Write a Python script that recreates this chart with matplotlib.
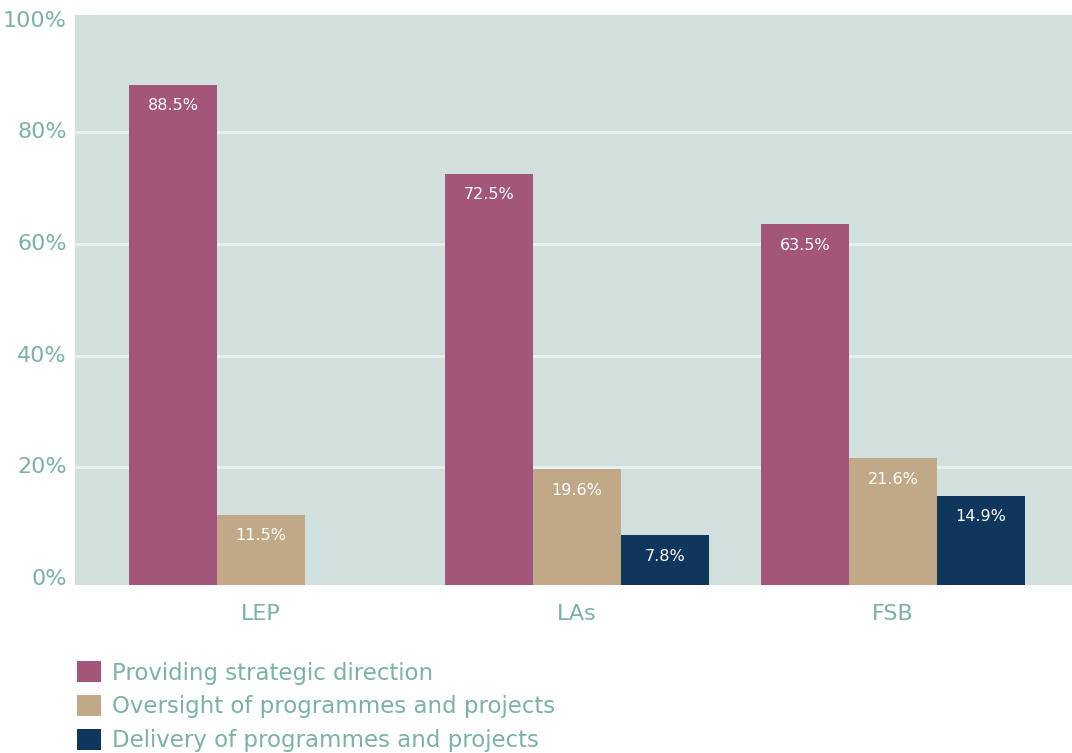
import matplotlib
matplotlib.use("Agg")
import matplotlib.pyplot as plt
from matplotlib.patches import Patch
import numpy as np

categories = ["LEP", "LAs", "FSB"]
series_names = ["Providing strategic direction",
                "Oversight of programmes and projects",
                "Delivery of programmes and projects"]
strategic = [88.5, 72.5, 63.5]
oversight = [11.5, 19.6, 21.6]
delivery = [0.0, 7.8, 14.9]
yticks = [0, 20, 40, 60, 80, 100]
ytick_labels = ["0%", "20%", "40%", "60%", "80%", "100%"]

colors = ["#A4567A", "#C1A988", "#0F365C"]
text_color = "#7AB2A8"
bg = "#D1E0DD"

plt.rcParams['font.family'] = ['DejaVu Sans']

fig = plt.figure(figsize=(10.72, 7.53), dpi=100)
ax = fig.add_axes([75/1072, 1-585/753, 1-75/1072, (585-15)/753])
ax.set_facecolor(bg)

ylo, yhi = -1.1, 101
x = np.arange(len(categories))
w = 0.278
for i, (vals, c) in enumerate(zip([strategic, oversight, delivery], colors)):
    pos = x + (i - 1) * w
    for p, v in zip(pos, vals):
        if v <= 0:
            continue
        ax.bar(p, v - ylo, bottom=ylo, width=w, color=c, zorder=3)
        ax.annotate(f"{v:.1f}%", (p, v), xytext=(0, -15), textcoords="offset points",
                    ha="center", va="center", color="white", fontsize=11.5, zorder=4)

ax.set_xlim(-0.589, 2.566)
ax.set_ylim(ylo, yhi)
ax.set_yticks(yticks)
ax.set_yticklabels(ytick_labels)
ax.set_xticks(x)
ax.set_xticklabels(categories)
ax.tick_params(axis='both', length=0, labelcolor=text_color, labelsize=16)
ax.tick_params(axis='y', pad=6)
ax.tick_params(axis='x', pad=14)
for lbl in ax.get_yticklabels():
    lbl.set_verticalalignment('center')
for t in yticks[1:-1]:
    ax.axhline(t, color="#E8F0EE", linewidth=2.2, zorder=1)
for s in ax.spines.values():
    s.set_visible(False)

handles = [Patch(facecolor=c, edgecolor='none') for c in colors]
leg = fig.legend(handles, series_names, loc="upper left",
                 bbox_to_anchor=(68/1072, 1-652/753), frameon=False,
                 fontsize=16.5, labelcolor=text_color, handlelength=1.05,
                 handleheight=1.05, handletextpad=0.45, labelspacing=0.45,
                 borderaxespad=0)

fig.savefig("out.png", dpi=100, facecolor="white")
